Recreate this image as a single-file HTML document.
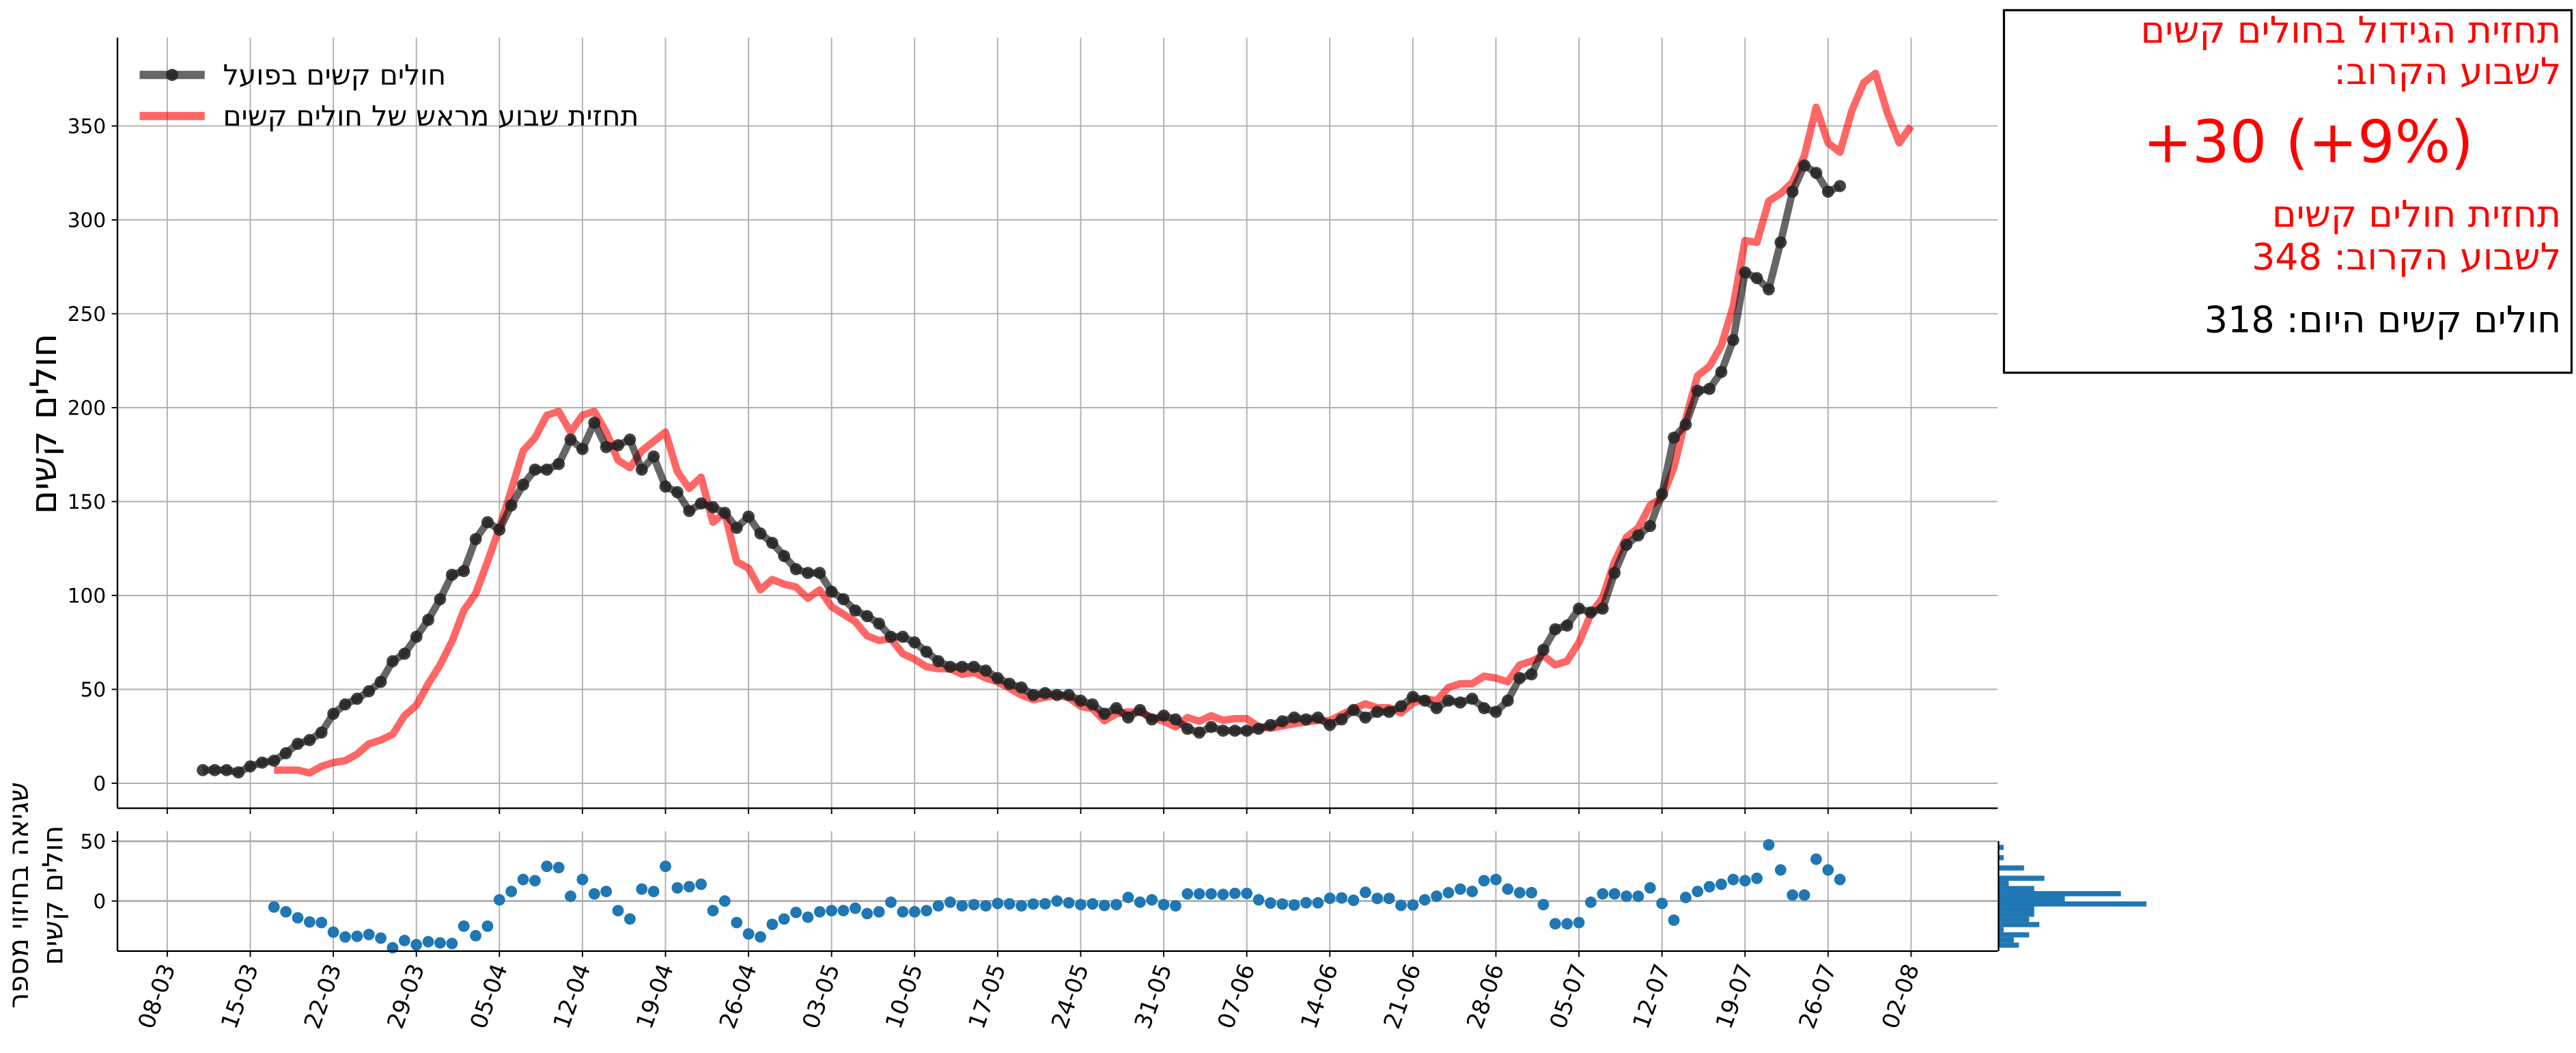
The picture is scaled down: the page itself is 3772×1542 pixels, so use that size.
<!DOCTYPE html>
<html><head><meta charset="utf-8"><style>
html,body{margin:0;padding:0;background:#fff;}
#root{width:3772px;height:1542px;overflow:hidden;position:relative;background:#fff;}
svg text{font-family:"DejaVu Sans","Liberation Sans",sans-serif;}
</style></head><body>
<div id="root">
<svg id="chart" width="3772" height="1542" viewBox="0 0 1568 641" xmlns="http://www.w3.org/2000/svg">
<g id="mainGrid"></g>
<g id="errGrid"></g>
<g id="series"></g>
<g id="axes"></g>
<text x="0" y="0" font-size="22" text-anchor="middle" transform="translate(34,258) rotate(-90)">חולים קשים</text>
<text font-size="17" text-anchor="middle" transform="translate(17,545) rotate(-90)">שגיאה בחיזוי מספר</text>
<text font-size="17" text-anchor="middle" transform="translate(38,545) rotate(-90)">חולים קשים</text>
<g>
  <line x1="85" y1="45.6" x2="124.6" y2="45.6" stroke="#000" stroke-opacity="0.6" stroke-width="5"/>
  <circle cx="104.8" cy="45.6" r="3.7" fill="#222" fill-opacity="0.85"/>
  <text x="135.7" y="51.5" font-size="17" direction="rtl" text-anchor="end">חולים קשים בפועל</text>
  <line x1="85" y1="70.6" x2="124.6" y2="70.6" stroke="#ff0000" stroke-opacity="0.6" stroke-width="5"/>
  <text x="135.7" y="76.5" font-size="17" direction="rtl" text-anchor="end">תחזית שבוע מראש של חולים קשים</text>
</g>
<g>
  <rect x="1219.8" y="6.2" width="345.5" height="220.7" fill="#fff" stroke="#000" stroke-width="1.3"/>
  <text x="1559" y="26" font-size="22.4" fill="#ff0000" direction="rtl" text-anchor="start">תחזית הגידול בחולים קשים</text>
  <text x="1559" y="51.2" font-size="22.4" fill="#ff0000" direction="rtl" text-anchor="start">לשבוע הקרוב:</text>
  <text x="1405" y="98.7" font-size="35.7" fill="#ff0000" text-anchor="middle">+30 (+9%)</text>
  <text x="1559" y="138" font-size="22.4" fill="#ff0000" direction="rtl" text-anchor="start">תחזית חולים קשים</text>
  <text x="1559" y="164" font-size="22.4" fill="#ff0000" direction="rtl" text-anchor="start">לשבוע הקרוב: 348</text>
  <text x="1559" y="202.2" font-size="22.4" fill="#000" direction="rtl" text-anchor="start">חולים קשים היום: 318</text>
</g>
</svg>
</div>
<script>
const tickLabels = ["08-03","15-03","22-03","29-03","05-04","12-04","19-04","26-04","03-05","10-05","17-05","24-05","31-05","07-06","14-06","21-06","28-06","05-07","12-07","19-07","26-07","02-08"];
const yTicks = [0,50,100,150,200,250,300,350];
const errTicks = [0,50];
const actualStartDay = 3;
const actual = [7,7,7,5.8,9,11,12,16,21,23,27,37,42,45,49,54,65,69,78,87,98,111,113,130,139,135,148,159,167,167,170,183,178,192,179,180,183,167,174,158,155,145,149,147,144,136,142,133,128,121,114,112,112,102,98,92,89,85,78,78,75,70,65,62,62,62,60,
56,53,51,47,48,47,47,44,42,37,40,35,39,34,36,34,29,27,30,28,28,28,29,31,33,35,34,35,31,34,39,35,38,38,41,46,44,40,44,43,45,40,38,44,56,58,71,82,84,93,91,93,112,127,132,137,154,184,191,209,210,219,236,272,269,263,288,315,329,325,315,318];
const forecastStartDay = 9;
const forecast = [7,7,7,5.5,9,11,12,15.5,21,23,26,36,41.5,53,63,75.5,92,101,118,136,156,177,184,196,198,187,196,198,187,172,168,177,182,187,166,157,163,139,144,118,114.5,103,108.5,106,104.5,98.5,103,94,90,86,78.5,76,77,69,66,62,61,61,58,59,56,
54,50.6,47,44.5,45.7,47,45.5,41,39.6,33.3,37,38,38,35,33,30,35,33,36,33.5,34.4,34.4,30,29.3,30.5,31.7,32.6,33.5,33.3,36.6,39.6,42.3,40.2,40.2,37.4,42.7,45,44,51,53,53,57,56,54,63,65,68,63,65,75,90,99,118,131,136,148,152,168,194,217,222,233,254,289,288,310,314,320,334,360,341,336,358,373,378,357,341,350];

const NS="http://www.w3.org/2000/svg";
const X0=101.8, DAY=7.221, L=71.5, R=1216, TOP=22.9, BOT=492;
const EB=579, ETOP=506;
function xDay(d){return X0+d*DAY;}
function yMain(v){return 476.8-v*1.1432;}
function yErr(v){return 548.5-v*0.728;}
function mk(tag,attrs,parent){const e=document.createElementNS(NS,tag);for(const k in attrs)e.setAttribute(k,attrs[k]);parent.appendChild(e);return e;}
const gGrid=document.getElementById('mainGrid'), eGrid=document.getElementById('errGrid'), gS=document.getElementById('series'), gA=document.getElementById('axes');

tickLabels.forEach((t,i)=>{
  const x=xDay(i*7);
  let l=mk('line',{x1:x,y1:TOP,x2:x,y2:BOT,stroke:'#b0b0b0','stroke-width':0.8},gGrid);
  
  
  l=mk('line',{x1:x,y1:ETOP,x2:x,y2:EB,stroke:'#b0b0b0','stroke-width':0.8},eGrid);
  
  
  l=mk('line',{x1:x,y1:BOT,x2:x,y2:BOT+3.5,stroke:'#000','stroke-width':0.8},gA);
  
  
  l=mk('line',{x1:x,y1:EB,x2:x,y2:EB+3.5,stroke:'#000','stroke-width':0.8},gA);
  
  
  const tx=mk('text',{x:0,y:0,'font-size':14,'text-anchor':'end',transform:`translate(${x+5},${EB+10}) rotate(-70)`},gA);
  tx.textContent=t;
  
  
});
yTicks.forEach(v=>{
  const y=yMain(v);
  let l=mk('line',{x1:L,y1:y,x2:R,y2:y,stroke:'#b0b0b0','stroke-width':0.8},gGrid);
  
  
  l=mk('line',{x1:L-3.5,y1:y,x2:L,y2:y,stroke:'#000','stroke-width':0.8},gA);
  
  
  const tx=mk('text',{x:L-7,y:y+4.3,'font-size':12.3,'text-anchor':'end'},gA);
  tx.textContent=v;
  
  
});
errTicks.forEach(v=>{
  const y=yErr(v);
  let l=mk('line',{x1:L,y1:y,x2:R,y2:y,stroke:'#b0b0b0','stroke-width':1.2},eGrid);
  
  
  l=mk('line',{x1:L-3.5,y1:y,x2:L,y2:y,stroke:'#000','stroke-width':0.8},gA);
  
  
  const tx=mk('text',{x:L-7,y:y+4.3,'font-size':12.3,'text-anchor':'end'},gA);
  tx.textContent=v;
  
  
});
[[L,TOP,L,BOT],[L,BOT,R,BOT],[L,ETOP,L,EB],[L,EB,R,EB]].forEach(s=>{
  const l=mk('line',{x1:s[0],y1:s[1],x2:s[2],y2:s[3],stroke:'#000','stroke-width':1},gA);
  
  
});

let pts=forecast.map((v,i)=>xDay(forecastStartDay+i)+','+yMain(v)).join(' ');
let fl=mk('polyline',{points:pts,fill:'none',stroke:'#ff0000','stroke-opacity':0.6,'stroke-width':4.5,'stroke-linejoin':'round'},gS);


pts=actual.map((v,i)=>xDay(actualStartDay+i)+','+yMain(v)).join(' ');
let al=mk('polyline',{points:pts,fill:'none',stroke:'#000','stroke-opacity':0.6,'stroke-width':4.5,'stroke-linejoin':'round'},gS);


actual.forEach((v,i)=>{
  const c=mk('circle',{cx:xDay(actualStartDay+i),cy:yMain(v),r:3.7,fill:'#222','fill-opacity':0.85},gS);
  
  
});
const errs=[];
forecast.forEach((v,i)=>{
  const d=forecastStartDay+i, ai=d-actualStartDay;
  if(ai>=0&&ai<actual.length) errs.push([d,v-actual[ai]]);
});
errs.forEach(e=>{
  const c=mk('circle',{cx:xDay(e[0]),cy:yErr(e[1]),r:3.5,fill:'#1f77b4'},gS);
  
  
});
const vals=errs.map(e=>e[1]);
const mn=Math.min(...vals), mx=Math.max(...vals), NB=20, bw=(mx-mn)/NB;
const counts=new Array(NB).fill(0);
vals.forEach(v=>{let b=Math.floor((v-mn)/bw);if(b>=NB)b=NB-1;counts[b]++;});
const cmax=Math.max(...counts);
counts.forEach((c,b)=>{
  if(!c)return;
  const y1=yErr(mn+(b+1)*bw), y2=yErr(mn+b*bw);
  const r=mk('rect',{x:R+0.5,y:y1,width:c/cmax*90,height:y2-y1,fill:'#1f77b4'},gS);
  
  
});
const hl=mk('line',{x1:R+0.5,y1:ETOP+6,x2:R+0.5,y2:EB,stroke:'#000','stroke-width':1},gA);


</script>
</body></html>
